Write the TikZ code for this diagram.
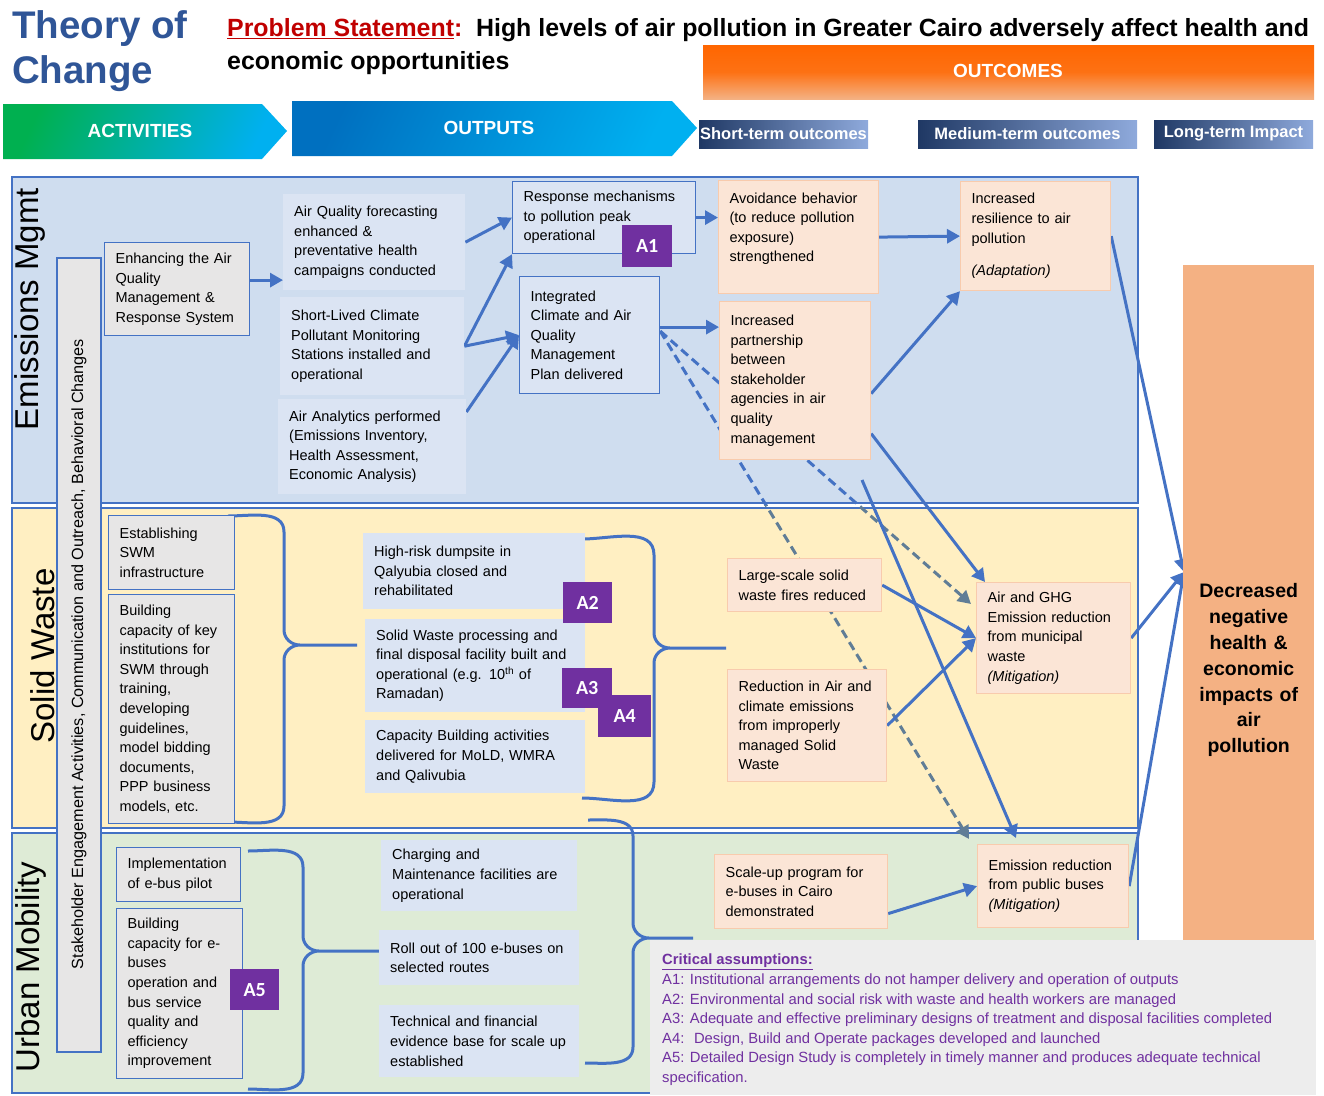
\documentclass[tikz,border=0pt]{standalone}
\usepackage{fontspec}
\setmainfont{Liberation Sans}
\newfontfamily\badgefont{Carlito}
\usetikzlibrary{arrows.meta}

\definecolor{tocblue}{RGB}{47,85,151}
\definecolor{psred}{RGB}{192,0,0}
\definecolor{linkblue}{RGB}{68,114,196}
\definecolor{dashgray}{RGB}{96,125,150}
\definecolor{emfill}{RGB}{207,221,239}
\definecolor{swfill}{RGB}{255,239,194}
\definecolor{umfill}{RGB}{222,235,214}
\definecolor{outfill}{RGB}{219,228,243}
\definecolor{actfill}{RGB}{231,230,230}
\definecolor{peach}{RGB}{251,229,214}
\definecolor{peachline}{RGB}{248,203,173}
\definecolor{impactfill}{RGB}{244,177,131}
\definecolor{apurple}{RGB}{112,48,160}
\definecolor{critfill}{RGB}{237,237,237}
\definecolor{navy}{RGB}{31,56,100}
\definecolor{paleblue}{RGB}{143,170,220}
\definecolor{actgreen}{RGB}{0,176,80}
\definecolor{skyblue}{RGB}{0,176,240}
\definecolor{deepblue}{RGB}{0,112,192}
\definecolor{outorange}{RGB}{255,102,0}

\newcommand\bodyfont{\fontsize{14.5}{19.6}\selectfont}

\pgfdeclarelayer{bands}
\pgfdeclarelayer{lines}
\pgfsetlayers{bands,lines,main}

\tikzset{
  box/.style 2 args={anchor=north west, minimum width=#1, minimum height=#2,
    text width=#1-22, inner xsep=11pt, inner ysep=2pt, align=left, font=\bodyfont},
  actbox/.style={draw=linkblue, line width=1.2pt, fill=actfill},
  outbox/.style={fill=outfill},
  framed/.style={draw=linkblue, line width=1.2pt, fill=outfill},
  stbox/.style={draw=peachline, line width=1.2pt, fill=peach},
  badge/.style={anchor=north west, fill=apurple, text=white, inner sep=0pt,
    font=\badgefont\bfseries\fontsize{20}{20}\selectfont},
  link/.style={draw=linkblue, line width=3pt, -{Triangle[length=13pt,width=14pt]}},
  dashlink/.style={line width=3pt, dash pattern=on 9pt off 5pt, -{Triangle[length=13pt,width=14pt]}},
  brace/.style={draw=linkblue, line width=3pt},
  band/.style={draw=linkblue, line width=1.2pt},
  bandlabel/.style={rotate=90, font=\fontsize{33}{33}\selectfont},
  header/.style={text=white, font=\bfseries\fontsize{19}{19}\selectfont},
  termlabel/.style={text=white, font=\bfseries\fontsize{16.5}{16.5}\selectfont},
}

\begin{document}
\begin{tikzpicture}[x=1pt,y=-1pt]
\useasboundingbox (0,0) rectangle (1324,1095);

% bands and stakeholder bar
\begin{pgfonlayer}{bands}
  \draw[band, fill=emfill] (12,177) rectangle (1138,503);
  \draw[band, fill=swfill] (12,508) rectangle (1138,828);
  \draw[band, fill=umfill] (12,833) rectangle (1138,1093);
  \draw[band, fill=actfill] (57,258) rectangle (101,1052);
\end{pgfonlayer}

% title and problem statement
\node[anchor=north west, inner sep=0pt, align=left, text=tocblue,
  font=\bfseries\fontsize{38.5}{45}\selectfont] (title) at (12,10) {Theory of\\Change};
\node[anchor=north west, inner sep=0pt, align=left,
  font=\bfseries\fontsize{24.9}{33}\selectfont] (problem) at (227,18)
  {\textcolor{psred}{\underline{Problem Statement}:}\hspace{0.55em}High levels of air pollution in Greater Cairo adversely affect health and\\economic opportunities};

% headers
\shade[top color=outorange, bottom color=impactfill, middle color=outorange!85!impactfill] (703,45) rectangle (1314,99);
\node[header] (outcomes) at (1008,71) {OUTCOMES};
\shade[left color=actgreen, right color=skyblue, shading angle=65]
  (3,104) -- (262,104) -- (287,131) -- (262,159) -- (3,159) -- cycle;
\node[header] (activities) at (140,131) {ACTIVITIES};
\shade[left color=deepblue, right color=skyblue, shading angle=65]
  (292,101) -- (672,101) -- (697,128) -- (672,156) -- (292,156) -- cycle;
\node[header] (outputs) at (489,128) {OUTPUTS};
\shade[left color=navy, right color=paleblue] (699,120) rectangle (868,148);
\node[termlabel] (stlabel) at (783.5,134) {Short-term outcomes};
\shade[left color=navy, right color=paleblue] (918,120) rectangle (1137,148);
\node[termlabel] (mtlabel) at (1027.5,134) {Medium-term outcomes};
\shade[left color=navy, right color=paleblue] (1154,120) rectangle (1313,148);
\node[termlabel] (ltlabel) at (1233.5,134) {Long-term Impact};

% band labels
\node[bandlabel] (emlabel) at (30,309) {Emissions Mgmt};
\node[bandlabel] (swlabel) at (43,656) {Solid Waste};
\node[bandlabel] (umlabel) at (31,967) {Urban Mobility};
\node[rotate=90, font=\fontsize{16.2}{16.2}\selectfont] (staketext) at (79,654)
  {Stakeholder Engagement Activities, Communication and Outreach, Behavioral Changes};

% activities
\node[box={145}{93}, actbox] (enhance) at (104,242) {Enhancing the Air\\Quality\\Management \&\\Response System};
\node[box={126}{74}, actbox] (swinfra) at (108,515) {Establishing\\SWM\\infrastructure};
\node[box={126}{229}, actbox] (swcap) at (108,594) {Building\\capacity of key\\institutions for\\SWM through\\training,\\developing\\guidelines,\\model bidding\\documents,\\PPP business\\models, etc.};
\node[box={124}{54}, actbox] (ebuspilot) at (116,847) {Implementation\\of e-bus pilot};
\node[box={126}{170}, actbox] (ebuscap) at (116,908) {Building\\capacity for e-\\buses\\operation and\\bus service\\quality and\\efficiency\\improvement};

% outputs
\node[box={182}{96}, outbox] (forecast) at (283,194) {Air Quality forecasting\\enhanced \&\\preventative health\\campaigns conducted};
\node[box={184}{98}, outbox] (slcp) at (280,297) {Short-Lived Climate\\Pollutant Monitoring\\Stations installed and\\operational};
\node[box={188}{95}, outbox] (analytics) at (278,399) {Air Analytics performed\\(Emissions Inventory,\\Health Assessment,\\Economic Analysis)};
\node[box={183}{72}, framed] (response) at (512,181) {Response mechanisms\\to pollution peak\\operational};
\node[box={140}{117}, framed] (icaqmp) at (519,276) {Integrated\\Climate and Air\\Quality\\Management\\Plan delivered};
\node[box={222}{76}, outbox] (dumpsite) at (363,533) {High-risk dumpsite in\\Qalyubia closed and\\rehabilitated};
\node[box={220}{93}, outbox] (swfacility) at (365,619) {Solid Waste processing and\\final disposal facility built and\\operational (e.g. 10\textsuperscript{th} of\\Ramadan)};
\node[box={220}{73}, outbox] (swcapbuild) at (365,720) {Capacity Building activities\\delivered for MoLD, WMRA\\and Qalivubia};
\node[box={196}{71}, outbox] (charging) at (381,840) {Charging and\\Maintenance facilities are\\operational};
\node[box={200}{55}, outbox] (rollout) at (379,930) {Roll out of 100 e-buses on\\selected routes};
\node[box={200}{72}, outbox] (evidence) at (379,1005) {Technical and financial\\evidence base for scale up\\established};

% short-term outcomes
\node[box={160}{113}, stbox] (avoid) at (718,180) {Avoidance behavior\\(to reduce pollution\\exposure)\\strengthened\\~};
\node[box={151}{158}, stbox] (partner) at (719,301) {Increased\\partnership\\between\\stakeholder\\agencies in air\\quality\\management};
\node[box={154}{53}, stbox] (fires) at (727,558) {Large-scale solid\\waste fires reduced};
\node[box={159}{112}, stbox] (swreduce) at (727,669) {Reduction in Air and\\climate emissions\\from improperly\\managed Solid\\Waste};
\node[box={173}{74}, stbox] (scaleup) at (714,854) {Scale-up program for\\e-buses in Cairo\\demonstrated};

% medium-term outcomes
\node[box={150}{109}, stbox] (resilience) at (960,181) {Increased\\resilience to air\\pollution\\[13pt]\textit{(Adaptation)}};
\node[box={154}{111}, stbox] (ghg) at (976,582) {Air and GHG\\Emission reduction\\from municipal\\waste\\\textit{(Mitigation)}};
\node[box={151}{83}, stbox] (buses) at (977,844) {Emission reduction\\from public buses\\\textit{(Mitigation)}};

% long-term impact
\node[box={131}{810}, fill=impactfill, align=center,
  font=\bfseries\fontsize{19.5}{25.8}\selectfont] (impact) at (1183,265)
  {Decreased\\negative\\health \&\\economic\\impacts of\\air\\pollution};

% critical assumptions
\node[anchor=north west, fill=critfill, minimum width=666, minimum height=155, inner sep=0pt] (critbox) at (650,940) {};
\node[anchor=north west, inner sep=0pt, align=left, text=apurple,
  font=\fontsize{14.8}{19.6}\selectfont] (crittext) at (662,954)
  {\textbf{\underline{Critical assumptions:}}\\
   A1: Institutional arrangements do not hamper delivery and operation of outputs\\
   A2: Environmental and social risk with waste and health workers are managed\\
   A3: Adequate and effective preliminary designs of treatment and disposal facilities completed\\
   A4: \ Design, Build and Operate packages developed and launched\\
   A5: Detailed Design Study is completely in timely manner and produces adequate technical\\
   specification.};

% assumption badges
\node[badge, minimum width=50, minimum height=42] (aone) at (622,225) {A1};
\node[badge, minimum width=49, minimum height=41] (atwo) at (563,582) {A2};
\node[badge, minimum width=50, minimum height=40] (athree) at (562,668) {A3};
\node[badge, minimum width=53, minimum height=42] (afour) at (598,695) {A4};
\node[badge, minimum width=49, minimum height=41] (afive) at (230,969) {A5};

% connectors
\begin{pgfonlayer}{lines}
  \coordinate (dsrc) at ([yshift=4]icaqmp.east);
  \begin{scope}
    \clip (0,0) rectangle (1324,505);
    \draw[dashlink, draw=linkblue] (dsrc) -- ([xshift=-5,yshift=-22]ghg.north west);
    \draw[dashlink, draw=linkblue] (dsrc) -- ([xshift=-8,yshift=5]buses.north west);
  \end{scope}
  \begin{scope}
    \clip (0,505) rectangle (1324,1095);
    \draw[dashlink, draw=dashgray] (dsrc) -- ([xshift=-5,yshift=-22]ghg.north west);
    \draw[dashlink, draw=dashgray] (dsrc) -- ([xshift=-8,yshift=5]buses.north west);
  \end{scope}

  \draw[link] ([yshift=9]enhance.east) -- ([yshift=9]enhance.east -| forecast.west);
  \draw[link] (forecast.east) -- (response.west);
  \draw[link] (slcp.east) -- (response.south west);
  \draw[link] (slcp.east) -- (icaqmp.west);
  \draw[link] ([yshift=-13]analytics.north east) -- (icaqmp.west);
  \draw[link] (response.east) -- (response.east -| avoid.west);
  \draw[link] ([yshift=8]icaqmp.east) -- ([yshift=8]icaqmp.east -| partner.west);
  \draw[link] (avoid.east) -- (resilience.west);
  \draw[link] ([yshift=-13]partner.east) -- (resilience.south west);
  \draw[link] ([yshift=-53]partner.east) -- ([xshift=9]ghg.north west);
  \coordinate (pcross) at (862,480);
  \draw[link] (pcross) -- ([xshift=39,yshift=6]buses.north west);
  \draw[link] (fires.east) -- (ghg.west);
  \draw[link] (swreduce.east) -- (ghg.west);
  \draw[link] ([yshift=-22]scaleup.east) -- (buses.west);
  \coordinate (impin) at (1184,572);
  \draw[link] (resilience.east) -- (impin);
  \draw[link] (ghg.east) -- (impin);
  \draw[link] (buses.east) -- (impin);

  % braces
  \draw[brace] (228,516) to[out=0,in=90] (284,532) -- (284,630) to[out=-90,in=180] (300,645) -- (357,645)
               (300,645) to[out=180,in=90] (284,660) -- (284,806) to[out=-90,in=0] (228,822);
  \draw[brace] (582,539) to[out=0,in=90] (654,555) -- (654,633) to[out=-90,in=180] (670,648) -- (726,648)
               (670,648) to[out=180,in=90] (654,663) -- (654,782) to[out=-90,in=0] (582,798);
  \draw[brace] (248,851) to[out=0,in=90] (303,867) -- (303,936) to[out=-90,in=180] (319,951) -- (380,951)
               (319,951) to[out=180,in=90] (303,966) -- (303,1073) to[out=-90,in=0] (248,1089);
  \draw[brace] (588,820) to[out=0,in=90] (633,836) -- (633,923) to[out=-90,in=180] (649,938) -- (693,938)
               (649,938) to[out=180,in=90] (633,953) -- (633,1047) to[out=-90,in=0] (585,1063);
\end{pgfonlayer}
\end{tikzpicture}
\end{document}
